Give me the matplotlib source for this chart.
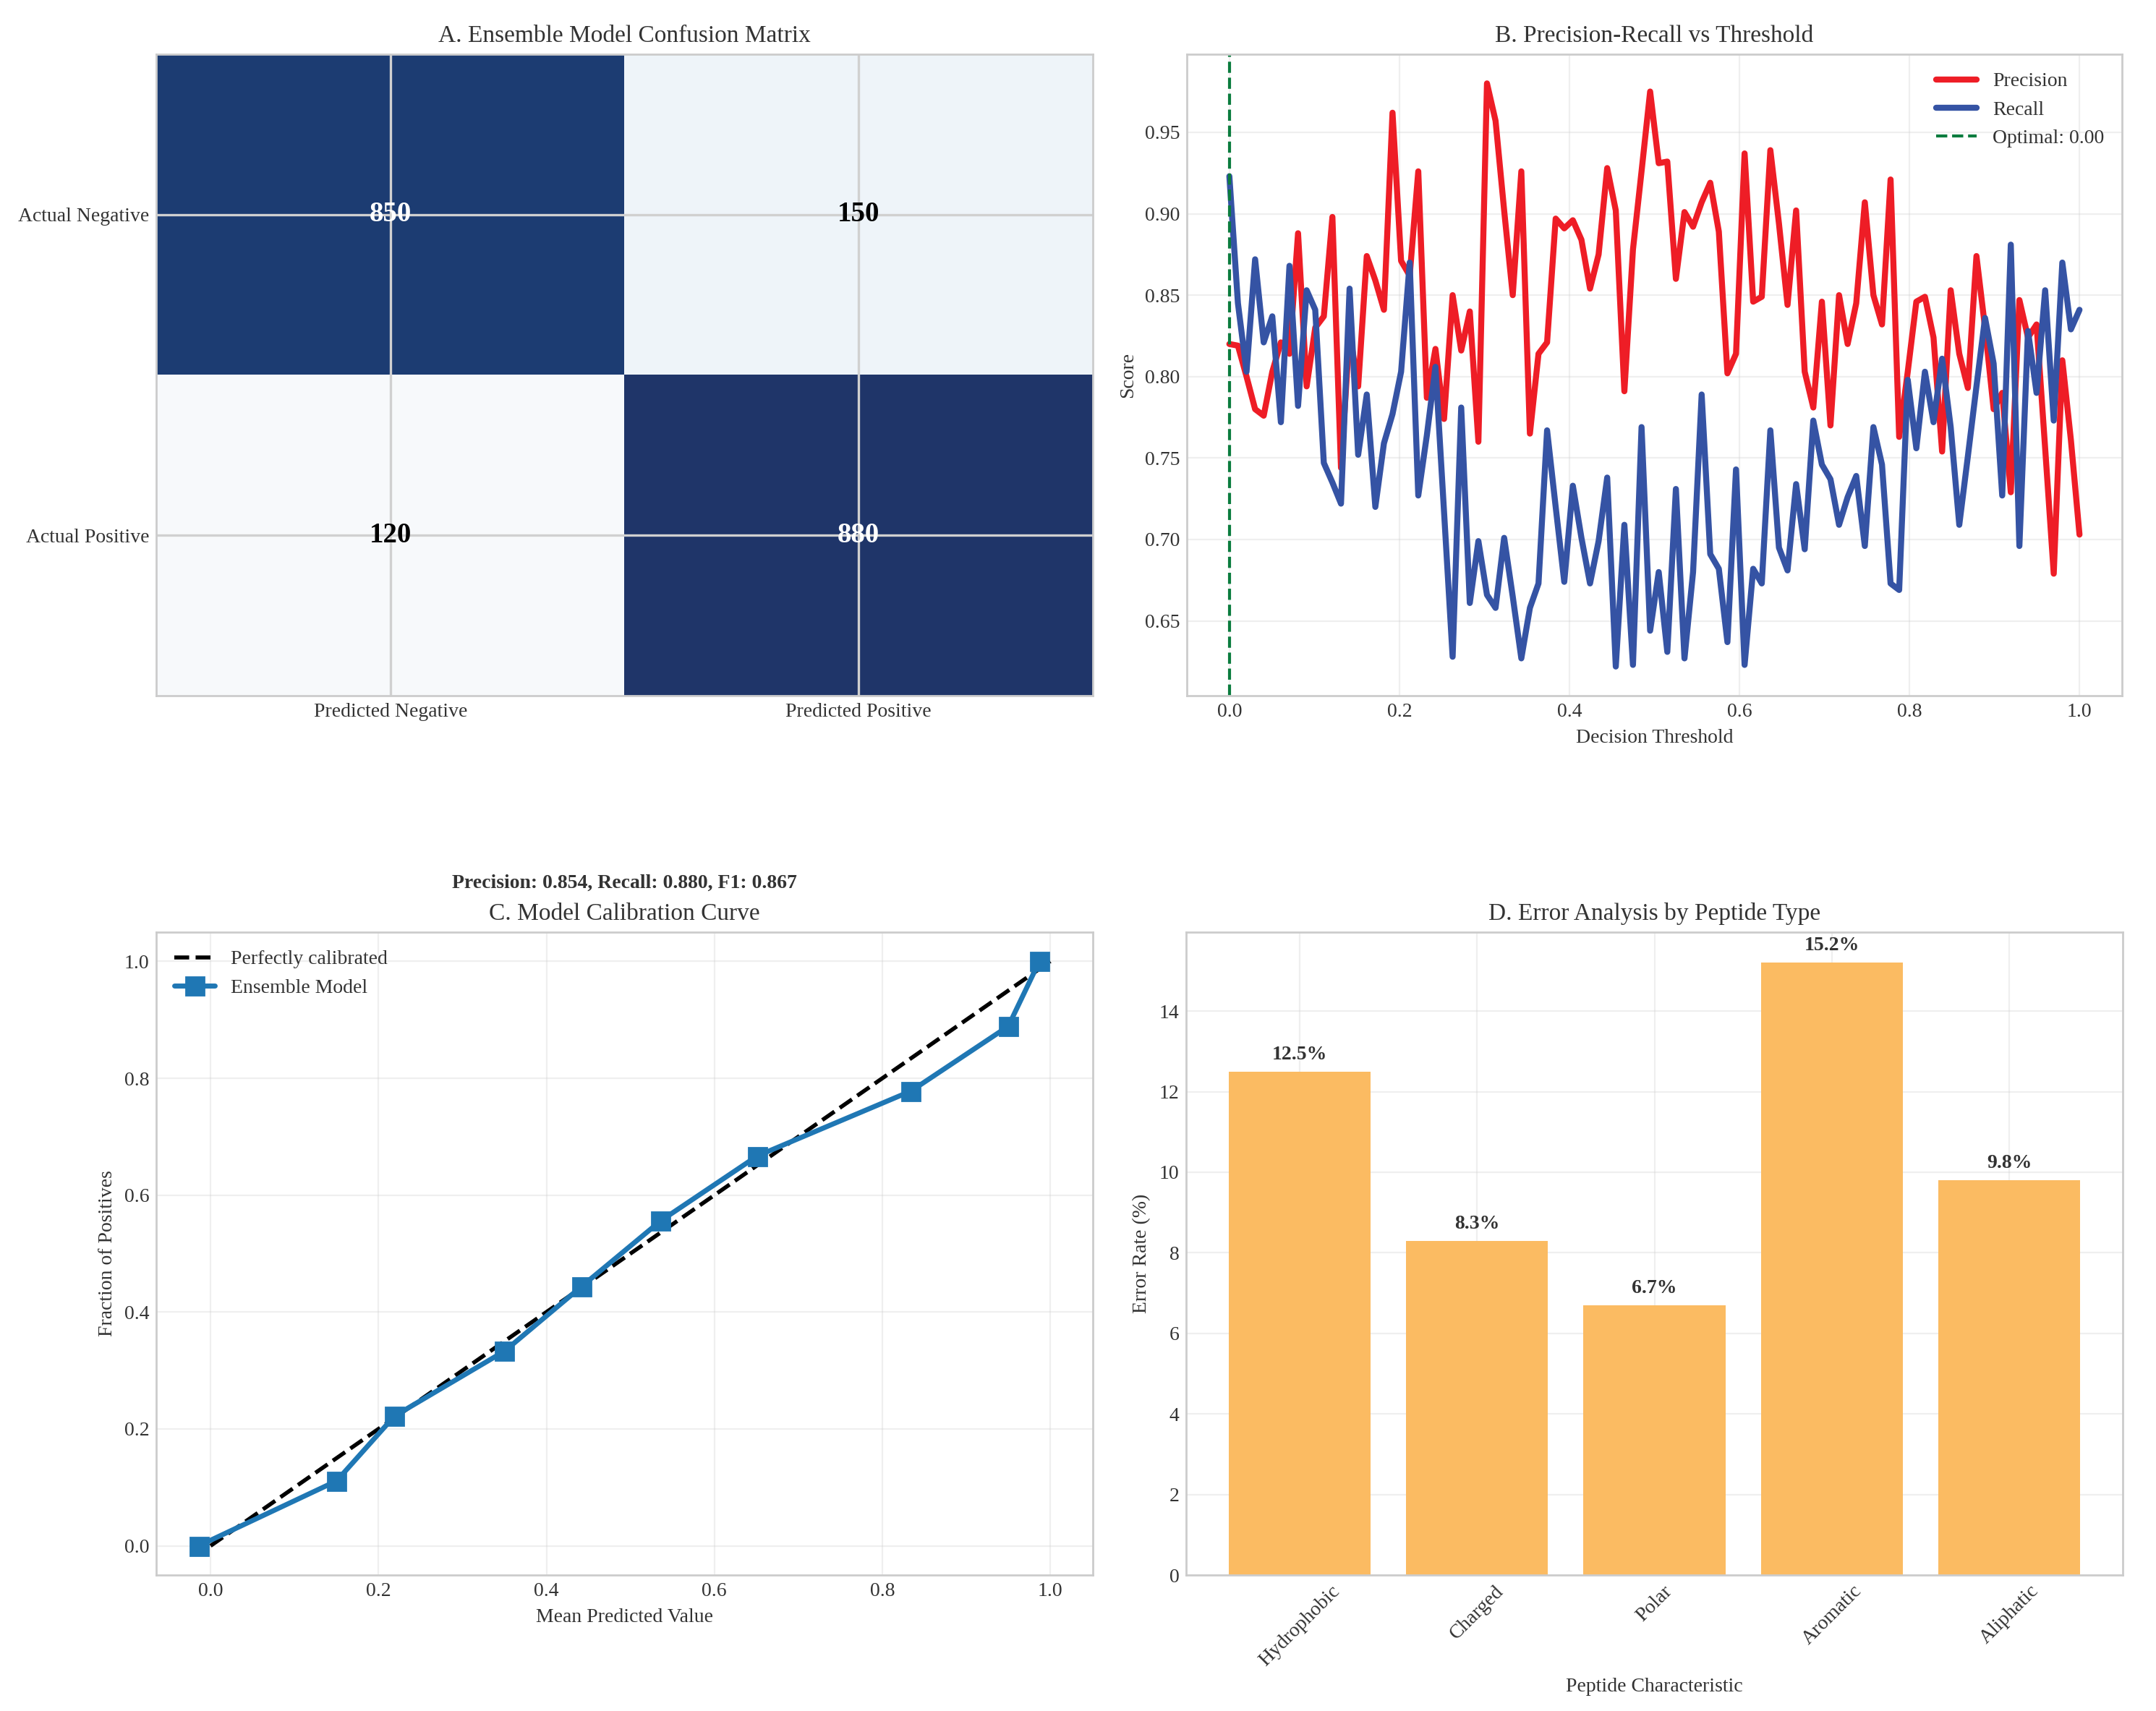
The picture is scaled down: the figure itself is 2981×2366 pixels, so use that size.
import numpy as np
import matplotlib
matplotlib.use("Agg")
import matplotlib.pyplot as plt
from matplotlib.colors import LinearSegmentedColormap

plt.style.use("seaborn-v0_8-whitegrid")
plt.rcParams.update({
    "font.family": "serif",
    "font.serif": ["Liberation Serif", "DejaVu Serif"],
    "font.size": 10,
    "axes.titlesize": 12,
    "axes.labelsize": 10,
    "xtick.labelsize": 10,
    "ytick.labelsize": 10,
    "legend.fontsize": 10,
    "text.color": ".2",
    "axes.labelcolor": ".2",
    "xtick.color": ".2",
    "ytick.color": ".2",
})

# ---------------- data ----------------
cm_values = [[850, 150], [120, 880]]
pred_labels = ["Predicted Negative", "Predicted Positive"]
actual_labels = ["Actual Negative", "Actual Positive"]

n_thresh = 100
precision = [
    0.820, 0.819, 0.800, 0.780, 0.776, 0.803, 0.821, 0.814, 0.888, 0.794,
    0.830, 0.837, 0.898, 0.744, 0.827, 0.794, 0.874, 0.859, 0.841, 0.962,
    0.871, 0.862, 0.926, 0.787, 0.817, 0.774, 0.850, 0.816, 0.840, 0.760,
    0.980, 0.957, 0.902, 0.850, 0.926, 0.765, 0.814, 0.821, 0.897, 0.891,
    0.896, 0.884, 0.854, 0.875, 0.928, 0.902, 0.791, 0.878, 0.926, 0.975,
    0.931, 0.932, 0.860, 0.901, 0.892, 0.907, 0.919, 0.889, 0.802, 0.814,
    0.937, 0.846, 0.849, 0.939, 0.894, 0.844, 0.902, 0.803, 0.781, 0.846,
    0.770, 0.850, 0.820, 0.845, 0.907, 0.850, 0.832, 0.921, 0.763, 0.803,
    0.846, 0.849, 0.824, 0.754, 0.853, 0.814, 0.793, 0.874, 0.830, 0.780,
    0.790, 0.729, 0.847, 0.824, 0.832, 0.756, 0.679, 0.810, 0.761, 0.703,
]
recall = [
    0.923, 0.845, 0.803, 0.872, 0.821, 0.837, 0.772, 0.868, 0.782, 0.853,
    0.841, 0.747, 0.735, 0.722, 0.854, 0.752, 0.789, 0.720, 0.759, 0.777,
    0.803, 0.870, 0.727, 0.764, 0.806, 0.717, 0.628, 0.781, 0.661, 0.699,
    0.666, 0.658, 0.701, 0.665, 0.627, 0.658, 0.673, 0.767, 0.720, 0.674,
    0.733, 0.701, 0.673, 0.699, 0.738, 0.622, 0.709, 0.623, 0.769, 0.644,
    0.680, 0.631, 0.731, 0.627, 0.680, 0.789, 0.691, 0.682, 0.637, 0.743,
    0.623, 0.682, 0.673, 0.767, 0.695, 0.681, 0.734, 0.694, 0.773, 0.746,
    0.737, 0.709, 0.726, 0.739, 0.696, 0.769, 0.746, 0.673, 0.669, 0.798,
    0.756, 0.803, 0.772, 0.811, 0.769, 0.709, 0.751, 0.794, 0.836, 0.808,
    0.727, 0.881, 0.696, 0.828, 0.790, 0.853, 0.773, 0.870, 0.829, 0.841,
]
optimal_threshold = 0.00

calib_mean_pred = [-0.014, 0.150, 0.219, 0.350, 0.442, 0.536, 0.651, 0.834, 0.950, 0.987]
calib_frac_pos = [0.000, 0.111, 0.222, 0.333, 0.444, 0.556, 0.667, 0.778, 0.889, 1.000]

summary_precision = 0.854
summary_recall = 0.880
summary_f1 = 0.867

peptide_types = ["Hydrophobic", "Charged", "Polar", "Aromatic", "Aliphatic"]
error_rates = [12.5, 8.3, 6.7, 15.2, 9.8]

# ---------------- figure ----------------
W, H = 2981, 2366
DPI = 200
fig = plt.figure(figsize=(W / DPI, H / DPI), dpi=DPI)

def box(l, r, t, b):
    return [l / W, 1 - b / H, (r - l) / W, (b - t) / H]

ax1 = fig.add_axes(box(216, 1511, 75, 962))
ax2 = fig.add_axes(box(1641, 2934, 75, 962))
ax3 = fig.add_axes(box(216, 1511, 1289, 2178))
ax4 = fig.add_axes(box(1640, 2935, 1289, 2178))

# A. confusion matrix
cm = np.array(cm_values)
vmin, vmax = cm.min(), cm.max()
cm_cmap = LinearSegmentedColormap.from_list(
    "cm_blue",
    [(0.0, "#f7f9fb"), (0.04, "#eef4f9"), (0.96, "#1c3d73"), (1.0, "#1f3569")],
)
ax1.imshow(cm, cmap=cm_cmap, vmin=vmin, vmax=vmax, aspect="auto")
ax1.set_xticks([0, 1])
ax1.set_xticklabels(pred_labels)
ax1.set_yticks([0, 1])
ax1.set_yticklabels(actual_labels)
ax1.grid(True, color="#d0d0d0", linewidth=1.2)
thr = (vmin + vmax) / 2
for i in range(2):
    for j in range(2):
        ax1.text(j, i, f"{cm[i, j]}", ha="center", va="center", fontsize=14,
                 fontweight="bold", color="white" if cm[i, j] > thr else "black")
ax1.set_title("A. Ensemble Model Confusion Matrix")

# B. precision-recall vs threshold
thresholds = np.linspace(0, 1, n_thresh)
ax2.plot(thresholds, precision, color="#ee1d26", linewidth=3, label="Precision")
ax2.plot(thresholds, recall, color="#3553a4", linewidth=3, label="Recall")
ax2.axvline(optimal_threshold, color="#0b7c3e", linestyle="--", linewidth=1.5,
            label=f"Optimal: {optimal_threshold:.2f}")
ax2.set_xlabel("Decision Threshold")
ax2.set_ylabel("Score")
ax2.set_title("B. Precision-Recall vs Threshold")
ax2.legend(loc="upper right", frameon=False)
ax2.grid(True, alpha=0.3)

# C. calibration curve
ax3.plot([0, 1], [0, 1], "k--", linewidth=2, label="Perfectly calibrated")
ax3.plot(calib_mean_pred, calib_frac_pos, marker="s", color="#1f77b4",
         linewidth=2.5, markersize=9, label="Ensemble Model")
ax3.set_xlabel("Mean Predicted Value")
ax3.set_ylabel("Fraction of Positives")
ax3.set_title("C. Model Calibration Curve")
ax3.legend(loc="upper left", frameon=False)
ax3.grid(True, alpha=0.3)
ax3.annotate(
    f"Precision: {summary_precision:.3f}, Recall: {summary_recall:.3f}, F1: {summary_f1:.3f}",
    xy=(0.5, 1.0), xycoords="axes fraction", xytext=(0, 24.5),
    textcoords="offset points", ha="center", va="center",
    fontsize=10, fontweight="bold",
)

# D. error analysis
xpos = np.arange(len(peptide_types))
bars = ax4.bar(xpos, error_rates, color="#fbbb62", width=0.8)
for b, v in zip(bars, error_rates):
    ax4.text(b.get_x() + b.get_width() / 2, v + 0.2, f"{v}%", ha="center",
             va="bottom", fontsize=10, fontweight="bold")
ax4.set_xticks(xpos)
ax4.set_xticklabels(peptide_types, rotation=45)
ax4.set_xlabel("Peptide Characteristic")
ax4.set_ylabel("Error Rate (%)")
ax4.set_title("D. Error Analysis by Peptide Type")
ax4.grid(True, alpha=0.3)

fig.savefig("out.png", dpi=DPI)
